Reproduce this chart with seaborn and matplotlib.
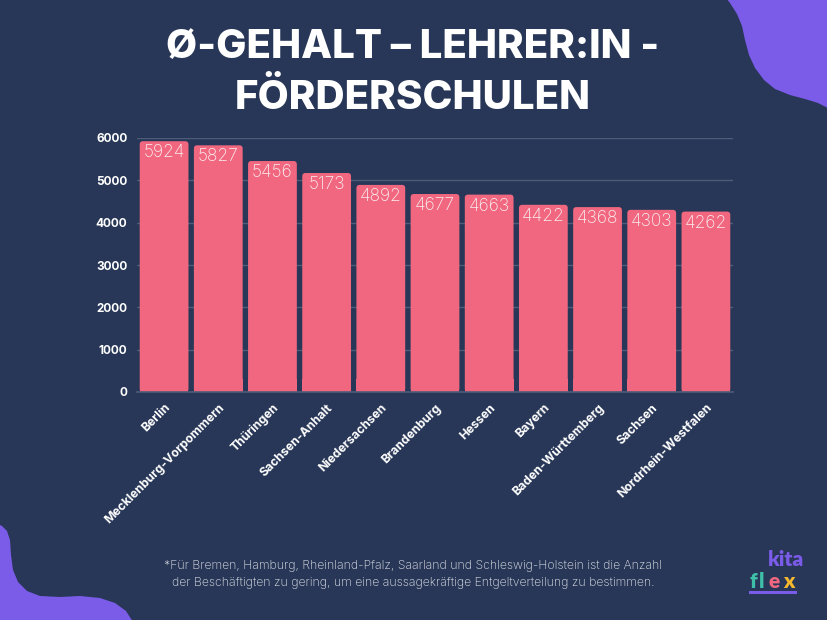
import matplotlib
matplotlib.use("Agg")
import matplotlib.pyplot as plt
import seaborn as sns
import pandas as pd
from matplotlib.path import Path
from matplotlib.patches import PathPatch, FancyBboxPatch, Rectangle

states = ["Berlin", "Mecklenburg-Vorpommern", "Thüringen", "Sachsen-Anhalt",
          "Niedersachsen", "Brandenburg", "Hessen", "Bayern",
          "Baden-Württemberg", "Sachsen", "Nordrhein-Westfalen"]
salaries = [5924, 5827, 5456, 5173, 4892, 4677, 4663, 4422, 4368, 4303, 4262]
yticks = [0, 1000, 2000, 3000, 4000, 5000, 6000]

BG = "#283757"
BAR = "#F0677F"
PURPLE = "#7B5CE9"
FONT = ['Inter', 'DejaVu Sans']

sns.set_theme(style="dark")
plt.rcParams['font.family'] = FONT

df = pd.DataFrame({"state": states, "salary": salaries})

fig = plt.figure(figsize=(8.27, 6.2), dpi=100, facecolor=BG)
W, H = 827, 620


def fp(x, y):
    return (x / W, 1 - y / H)


def blob(pts):
    verts = [fp(*p) for p in pts] + [fp(*pts[0])]
    codes = [Path.MOVETO] + [Path.LINETO] * (len(pts) - 1) + [Path.CLOSEPOLY]
    fig.patches.append(PathPatch(Path(verts, codes), transform=fig.transFigure,
                                 facecolor=PURPLE, edgecolor='none', zorder=0))


blob([(726, -2), (730, 3), (737, 14), (742, 26), (745, 40), (749, 55), (755, 68),
      (764, 80), (775, 89), (790, 95), (805, 99), (818, 103), (828, 108), (830, 108), (830, -2)])
blob([(-2, 524), (2, 526), (7, 531), (10, 540), (11, 555), (13, 570), (18, 582), (27, 591),
      (40, 596), (60, 597), (80, 596), (100, 598), (115, 603), (126, 611), (133, 622), (-2, 622)])

ax = fig.add_axes([137 / W, 1 - 392 / H, (733 - 137) / W, (392 - 138) / H])
ax.set_facecolor('none')
sns.barplot(data=df, x="state", y="salary", color=BAR, width=0.9, ax=ax, saturation=1, zorder=3)

# rounded bar tops
px_per_cat = (733 - 137) / len(states)
units_per_px = 6000 / (392 - 138)
for p in list(ax.patches):
    x, y, w, h = p.get_x(), p.get_y(), p.get_width(), p.get_height()
    p.set_visible(False)
    fb = FancyBboxPatch((x, y), w, h, boxstyle="round,pad=0,rounding_size=0.06",
                        mutation_aspect=units_per_px * px_per_cat,
                        facecolor=BAR, edgecolor='none', zorder=3)
    ax.add_patch(fb)
    ax.add_patch(Rectangle((x, 0), w, min(h, 300), facecolor=BAR, edgecolor='none', zorder=3))

for i, v in enumerate(salaries):
    ax.text(i, v - 70, f"{v}", ha='center', va='top', color='#FBEFF1',
            fontsize=12.5, fontweight='light', zorder=4)

ax.set_xlim(-0.5, len(states) - 0.5)
ax.set_ylim(0, 6000)
ax.set_yticks(yticks)
ax.set_yticklabels([str(t) for t in yticks], color='white', fontsize=8.5, fontweight='bold')
ax.set_xticks(range(len(states)))
ax.set_xticklabels(states, rotation=45, ha='right', rotation_mode='anchor',
                   color='white', fontsize=8.8, fontweight='bold')
ax.tick_params(axis='both', length=0, pad=7)
ax.set_xlabel("")
ax.set_ylabel("")
ax.grid(axis='y', color='#4E5C78', linewidth=1, zorder=0)
ax.grid(axis='x', visible=False)
for s in ['top', 'right', 'left']:
    ax.spines[s].set_visible(False)
ax.spines['bottom'].set_color('#4E5C78')
ax.spines['bottom'].set_linewidth(1.2)
ax.spines['bottom'].set_zorder(5)

fig.text(413 / W, 1 - 48 / H, "Ø-GEHALT – LEHRER:IN -", ha='center', va='center',
         color='white', fontsize=29, fontweight='heavy')
fig.text(413 / W, 1 - 98 / H, "FÖRDERSCHULEN", ha='center', va='center',
         color='white', fontsize=29, fontweight='heavy')

fig.text(413 / W, 1 - 566 / H,
         "*Für Bremen, Hamburg, Rheinland-Pfalz, Saarland und Schleswig-Holstein ist die Anzahl",
         ha='center', va='center', color='#E3E6EC', fontsize=8.8, fontweight='light')
fig.text(413 / W, 1 - 583 / H,
         "der Beschäftigten zu gering, um eine aussagekräftige Entgeltverteilung zu bestimmen.",
         ha='center', va='center', color='#E3E6EC', fontsize=8.8, fontweight='light')

# logo
LOGO = ['Lato', 'DejaVu Sans']
fig.text(786 / W, 1 - 560 / H, "kita", ha='center', va='center', color=PURPLE,
         fontsize=15, fontweight='heavy', family=LOGO)
for ch, xx, col in [("f", 753, '#3FBFA8'), ("l", 762, '#3FBFA8'),
                    ("e", 774, '#F0677F'), ("x", 789, '#F5B82E')]:
    fig.text(xx / W, 1 - 581 / H, ch, ha='center', va='center', color=col,
             fontsize=15, fontweight='heavy', family=LOGO)
fig.patches.append(Rectangle((749 / W, 1 - 594 / H), 48 / W, 3 / H,
                             transform=fig.transFigure, facecolor=PURPLE,
                             edgecolor='none', zorder=2))

fig.savefig("out.png", dpi=100, facecolor=BG)
